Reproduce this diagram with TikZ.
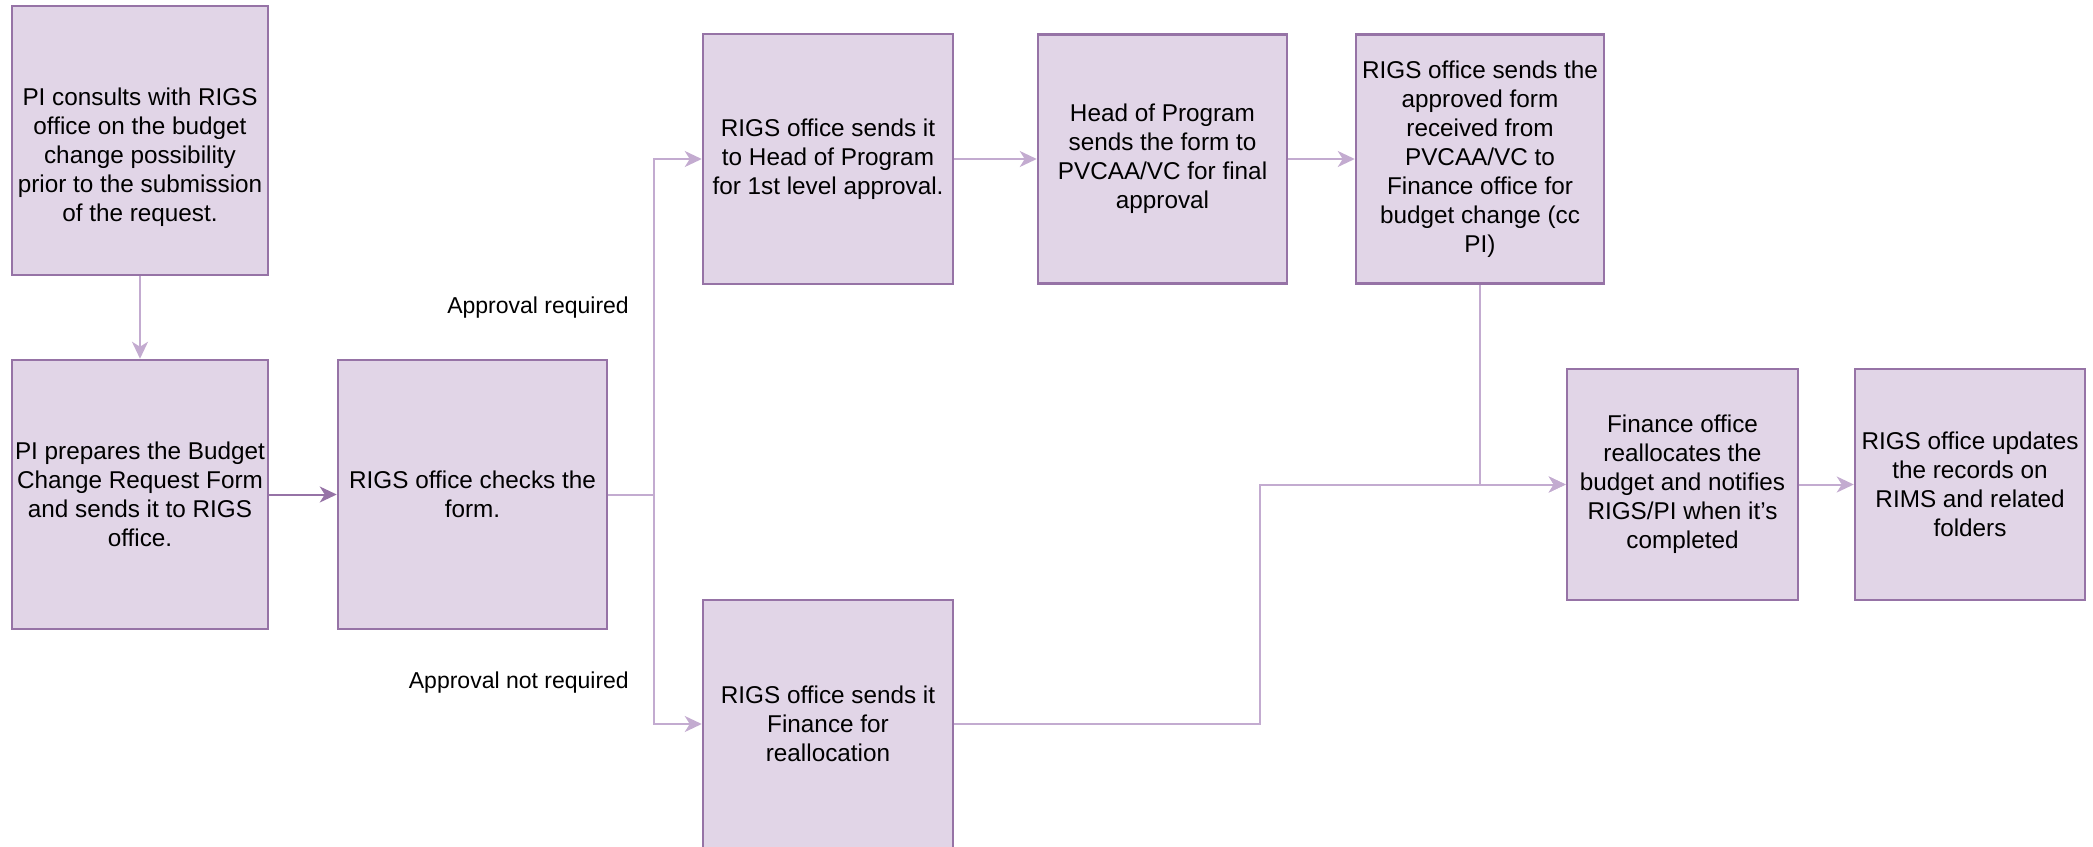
\documentclass[tikz,border=0pt]{standalone}
\usepackage{fontspec}
\setmainfont{Liberation Sans}
\usetikzlibrary{arrows.meta,calc}
\definecolor{boxfill}{HTML}{E1D5E7}
\definecolor{boxdraw}{HTML}{9673A6}
\definecolor{edgec}{HTML}{C3ABD0}
\begin{document}
\begin{tikzpicture}[x=1pt,y=-1pt,
 box/.style={draw=boxdraw, fill=boxfill, line width=2.5pt, align=center, font=\fontsize{24.3}{29}\selectfont, inner sep=0pt},
 txt/.style={align=center, font=\fontsize{24.3}{29}\selectfont, inner sep=0pt},
 conn/.style={draw=edgec, line width=2pt, -{Stealth[length=17pt,width=16pt,inset=5pt]}},
 darkconn/.style={conn, draw=boxdraw},
 lbl/.style={font=\fontsize{23}{27.6}\selectfont, inner sep=0pt}]
\useasboundingbox (0,0) rectangle (2093,846);

\node[box, minimum width=256pt, minimum height=269pt,
  label={[txt, yshift=-17pt]center:{PI consults with RIGS\\office on the budget\\change possibility\\prior to the submission\\of the request.}}] (b1) at (140,140.5) {};
\node[box, minimum width=256pt, minimum height=269pt] (b2) at (140,494.5) {PI prepares the Budget\\Change Request Form\\and sends it to RIGS\\office.};
\node[box, minimum width=269pt, minimum height=269pt] (b3) at (472.5,494.5) {RIGS office checks the\\form.};
\node[box, minimum width=250pt, minimum height=250pt] (b4) at (828,159) {RIGS office sends it\\to Head of Program\\for 1st level approval.};
\node[box, minimum width=249pt, minimum height=249pt] (b5) at (1162.5,159) {Head of Program\\sends the form to\\PVCAA/VC for final\\approval};
\node[box, minimum width=248pt, minimum height=249pt] (b6) at (1480,159) {RIGS office sends the\\approved form\\received from\\PVCAA/VC to\\Finance office for\\budget change (cc\\PI)};
\node[box, minimum width=250pt, minimum height=248pt] (b7) at (828,724) {RIGS office sends it\\Finance for\\reallocation};
\node[box, minimum width=231pt, minimum height=231pt] (b8) at (1682.5,484.5) {Finance office\\reallocates the\\budget and notifies\\RIGS/PI when it{\char"0027}s\\completed};
\node[box, minimum width=230pt, minimum height=231pt] (b9) at (1970,484.5) {RIGS office updates\\the records on\\RIMS and related\\folders};

\node[lbl, anchor=east] (l1) at (629,308) {Approval required};
\node[lbl, anchor=east] (l2) at (629,683) {Approval not required};

\coordinate (j1) at (654,0);
\coordinate (j2) at (1260,0);

\draw[conn] (b1.south) -- (b2.north);
\draw[darkconn] (b2.east) -- (b3.west);
\draw[conn] (b3.east) -- (b3.east -| j1) |- (b4.west);
\draw[conn] (b3.east) -- (b3.east -| j1) |- (b7.west);
\draw[conn] (b4.east) -- (b5.west);
\draw[conn] (b5.east) -- (b6.west);
\draw[conn] (b6.south) |- (b8.west);
\draw[conn] (b7.east) -- (b7.east -| j2) |- (b8.west);
\draw[conn] (b8.east) -- (b9.west);
\end{tikzpicture}
\end{document}
